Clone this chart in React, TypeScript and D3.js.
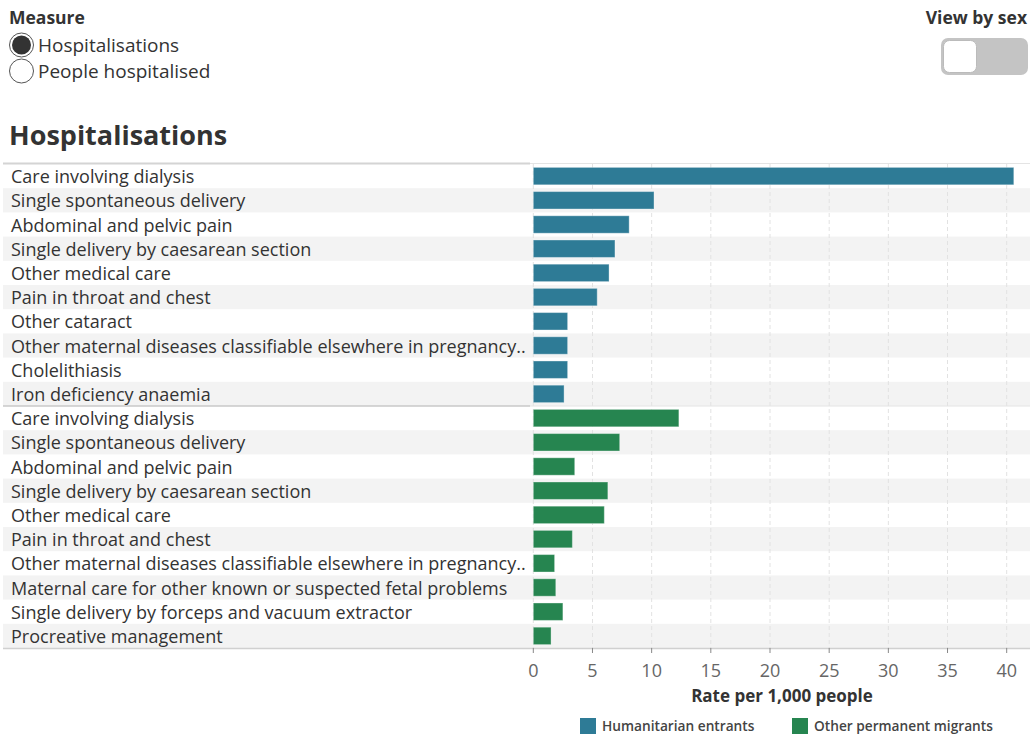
import React from "react";
import * as d3 from "d3";

const humanitarianCats = [
  "Care involving dialysis",
  "Single spontaneous delivery",
  "Abdominal and pelvic pain",
  "Single delivery by caesarean section",
  "Other medical care",
  "Pain in throat and chest",
  "Other cataract",
  "Other maternal diseases classifiable elsewhere in pregnancy..",
  "Cholelithiasis",
  "Iron deficiency anaemia",
];
const humanitarianVals = [40.6, 10.2, 8.1, 6.9, 6.4, 5.4, 2.9, 2.9, 2.9, 2.6];

const otherCats = [
  "Care involving dialysis",
  "Single spontaneous delivery",
  "Abdominal and pelvic pain",
  "Single delivery by caesarean section",
  "Other medical care",
  "Pain in throat and chest",
  "Other maternal diseases classifiable elsewhere in pregnancy..",
  "Maternal care for other known or suspected fetal problems",
  "Single delivery by forceps and vacuum extractor",
  "Procreative management",
];
const otherVals = [12.3, 7.3, 3.5, 6.3, 6.0, 3.3, 1.8, 1.9, 2.5, 1.5];

const groups = ["Humanitarian entrants", "Other permanent migrants"];
const colors = ["#2e7b96", "#268550"];
const xTicks = [0, 5, 10, 15, 20, 25, 30, 35, 40];

const FONT = "'Open Sans', sans-serif";

export default function App() {
  const W = 1030, H = 736;
  const rows = [
    ...humanitarianCats.map((c, i) => ({ key: "h" + i, cat: c, v: humanitarianVals[i], g: 0 })),
    ...otherCats.map((c, i) => ({ key: "o" + i, cat: c, v: otherVals[i], g: 1 })),
  ];
  const top = 164, bottom = 648;
  const y = d3.scaleBand<string>().domain(rows.map((r) => r.key)).range([top, bottom]).paddingInner(0).paddingOuter(0);
  const x = d3.scaleLinear().domain([0, 40]).range([533.3, 1006.7]);
  const bw = y.bandwidth();
  const barH = bw * 0.72;
  const sepY = y("o0")!;

  return (
    <svg width={W} height={H} style={{ position: "absolute", left: 0, top: 0, background: "#fff" }} fontFamily={FONT}>
      <text x={9} y={24} fontSize={17.5} fontWeight={700} fill="#333">Measure</text>
      <circle cx={21.5} cy={45} r={12} fill="#fff" stroke="#555" strokeWidth={1} />
      <circle cx={21.5} cy={45} r={9.5} fill="#333" />
      <text x={38} y={51.5} fontSize={19} fill="#333">Hospitalisations</text>
      <circle cx={21.5} cy={71} r={12} fill="#fff" stroke="#555" strokeWidth={1} />
      <text x={38} y={77.5} fontSize={19} fill="#333">People hospitalised</text>

      <text x={1027} y={24} fontSize={17.5} fontWeight={700} fill="#333" textAnchor="end">View by sex</text>
      <rect x={941} y={38} width={87} height={37} rx={7} fill="#c4c4c4" />
      <rect x={943.5} y={40.5} width={33} height={32} rx={6} fill="#fff" stroke="#bbb" />

      <text x={9} y={145} fontSize={27} fontWeight={700} fill="#333">Hospitalisations</text>

      {rows.map((r, i) =>
        i % 2 === 1 ? (
          <rect key={"bg" + r.key} x={3} y={y(r.key)!} width={W - 3} height={bw} fill="#f3f3f3" />
        ) : null
      )}

      {xTicks.map((t) => (
        <line key={"g" + t} x1={x(t)} x2={x(t)} y1={top} y2={bottom} stroke="#e2e2e2" strokeDasharray="4,3" />
      ))}

      <line x1={3} x2={530} y1={top - 0.5} y2={top - 0.5} stroke="#d4d4d4" strokeWidth={2} />
      <line x1={530} x2={W} y1={top - 0.5} y2={top - 0.5} stroke="#e4e4e4" strokeWidth={1} />
      <line x1={3} x2={530} y1={sepY} y2={sepY} stroke="#c8c8c8" strokeWidth={1.5} />
      <line x1={530} x2={W} y1={sepY} y2={sepY} stroke="#e4e4e4" strokeWidth={1} />

      {rows.map((r) => (
        <text key={"l" + r.key} x={11} y={y(r.key)! + bw / 2 + 7} fontSize={18} fill="#333">
          {r.cat}
        </text>
      ))}

      {rows.map((r) => (
        <rect
          key={"b" + r.key}
          x={x(0)}
          y={y(r.key)! + (bw - barH) / 2}
          width={x(r.v) - x(0)}
          height={barH}
          fill={colors[r.g]}
          stroke="#ffffff"
          strokeOpacity={0.35}
          strokeWidth={1}
        />
      ))}

      <line x1={3} x2={W} y1={bottom + 0.5} y2={bottom + 0.5} stroke="#d0d0d0" strokeWidth={1.5} />
      {xTicks.map((t) => (
        <g key={"t" + t}>
          <line x1={x(t)} x2={x(t)} y1={bottom} y2={bottom + 5} stroke="#888" />
          <text x={x(t)} y={677} fontSize={18} fill="#666" textAnchor="middle">{t}</text>
        </g>
      ))}
      <text x={782} y={702} fontSize={17} fontWeight={700} fill="#333" textAnchor="middle">Rate per 1,000 people</text>

      {groups.map((g, i) => {
        const lx = i === 0 ? 580 : 792;
        return (
          <g key={"lg" + i}>
            <rect x={lx} y={718} width={16} height={16} fill={colors[i]} />
            <text x={lx + 22} y={731} fontSize={13.7} fontWeight={600} fill="#444">{g}</text>
          </g>
        );
      })}
    </svg>
  );
}
